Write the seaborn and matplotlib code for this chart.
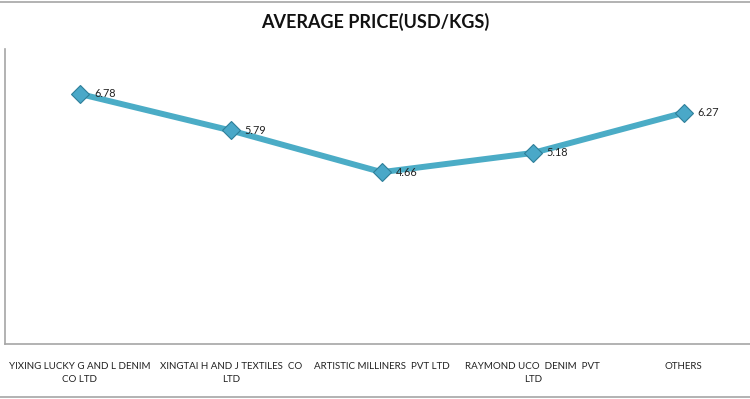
import matplotlib
matplotlib.use('Agg')
import matplotlib.pyplot as plt
from matplotlib.lines import Line2D
import seaborn as sns
import pandas as pd

# chart data
companies = [
    'YIXING LUCKY G AND L DENIM\nCO LTD',
    'XINGTAI H AND J TEXTILES  CO\nLTD',
    'ARTISTIC MILLINERS  PVT LTD',
    'RAYMOND UCO  DENIM  PVT\nLTD',
    'OTHERS',
]
avg_price = [6.78, 5.79, 4.66, 5.18, 6.27]

df = pd.DataFrame({'company': range(len(companies)), 'price': avg_price})

sns.set_style('white')
plt.rcParams['font.family'] = ['Lato', 'DejaVu Sans']

fig = plt.figure(figsize=(7.5, 3.99), dpi=100)
ax = fig.add_axes([5 / 750, 1 - 344 / 399, 1 - 5 / 750, (344 - 49) / 399])

line_col = '#4BACC6'
sns.lineplot(data=df, x='company', y='price', ax=ax, color=line_col,
             linewidth=4.3, marker='D', markersize=9,
             markerfacecolor='#4aa8c8', markeredgecolor='#2e7f99',
             markeredgewidth=0.8)

for i, v in enumerate(avg_price):
    ax.annotate(f'{v:.2f}', (i, v), xytext=(10, 0), textcoords='offset points',
                fontsize=7.8, color='#222222', va='center', ha='left')

ax.set_xlim(-0.497, 4.44)
ax.set_ylim(0, 8)
ax.set_yticks([])
ax.set_xticks(range(len(companies)))
ax.set_xticklabels(companies, fontsize=7, color='#222222', linespacing=1.5)
ax.tick_params(axis='x', length=0, pad=13)
ax.set_xlabel('')
ax.set_ylabel('')

for side in ['top', 'right']:
    ax.spines[side].set_visible(False)
for side in ['left', 'bottom']:
    ax.spines[side].set_color('#a6a6a6')
    ax.spines[side].set_linewidth(1.2)

fig.text(0.5, 1 - 22 / 399, 'AVERAGE PRICE(USD/KGS)', ha='center', va='center',
         fontsize=13, fontweight='bold', color='#111111')

# outer chart border lines (top and bottom)
fig.add_artist(Line2D([0, 1], [1 - 1.5 / 399, 1 - 1.5 / 399], color='#a6a6a6', lw=1.2))
fig.add_artist(Line2D([0, 1], [1 - 396.5 / 399, 1 - 396.5 / 399], color='#a6a6a6', lw=1.2))

fig.savefig('out.png', dpi=100)
